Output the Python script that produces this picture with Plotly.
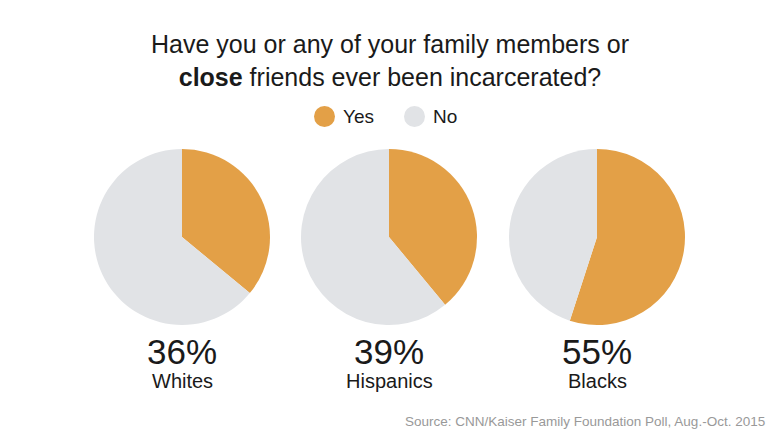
import plotly.graph_objects as go

groups = ["Whites", "Hispanics", "Blacks"]
yes_pct = [36, 39, 55]
answers = ["Yes", "No"]
colors = ["#E3A047", "#E1E3E6"]
title_line1 = "Have you or any of your family members or"
title_line2 = "<b>close</b> friends ever been incarcerated?"
source = "Source: CNN/Kaiser Family Foundation Poll, Aug.-Oct. 2015"

W, H = 780, 439
centers_x = [182, 389, 597]
cy, r = 237, 88
FONT = "Liberation Sans, Arial, Helvetica, sans-serif"

fig = go.Figure()
for i, g in enumerate(groups):
    cx = centers_x[i]
    fig.add_trace(go.Pie(
        labels=answers, values=[yes_pct[i], 100 - yes_pct[i]],
        marker=dict(colors=colors, line=dict(width=0)),
        sort=False, direction="clockwise", rotation=0,
        textinfo="none", hoverinfo="label+percent", showlegend=False,
        domain=dict(x=[(cx - r) / W, (cx + r) / W],
                    y=[1 - (cy + r) / H, 1 - (cy - r) / H]),
    ))

annotations = []
def px(x):
    return x / W
def py(y):
    return 1 - y / H

annotations.append(dict(text=title_line1 + "<br>" + title_line2, x=px(390), y=py(61),
                        xref="paper", yref="paper", showarrow=False,
                        font=dict(family=FONT, size=25, color="#1a1a1a"),
                        xanchor="center", yanchor="middle", align="center"))
for i, g in enumerate(groups):
    annotations.append(dict(text=f"{yes_pct[i]}%", x=px(centers_x[i]), y=py(351),
                            xref="paper", yref="paper", showarrow=False,
                            font=dict(family=FONT, size=35, color="#1a1a1a"),
                            xanchor="center", yanchor="middle"))
    annotations.append(dict(text=g, x=px(centers_x[i]), y=py(381),
                            xref="paper", yref="paper", showarrow=False,
                            font=dict(family=FONT, size=20, color="#1a1a1a"),
                            xanchor="center", yanchor="middle"))
annotations.append(dict(text=source, x=px(767), y=py(421), xref="paper", yref="paper",
                        showarrow=False, font=dict(family=FONT, size=13.5, color="#999999"),
                        xanchor="right", yanchor="middle"))

shapes = []
legend_x = [324.5, 414.5]
for j, a in enumerate(answers):
    lx = legend_x[j]
    shapes.append(dict(type="circle", xref="paper", yref="paper",
                       x0=px(lx - 10.5), x1=px(lx + 10.5), y0=py(116.5 + 10.5), y1=py(116.5 - 10.5),
                       fillcolor=colors[j], line=dict(width=0)))
    annotations.append(dict(text=a, x=px(lx + 16), y=py(116.5), xref="paper", yref="paper",
                            showarrow=False, font=dict(family=FONT, size=19, color="#1a1a1a"),
                            xanchor="left", yanchor="middle"))

fig.update_layout(width=W, height=H, margin=dict(l=0, r=0, t=0, b=0),
                  paper_bgcolor="white", plot_bgcolor="white",
                  annotations=annotations, shapes=shapes)
fig.write_html("out.html")
